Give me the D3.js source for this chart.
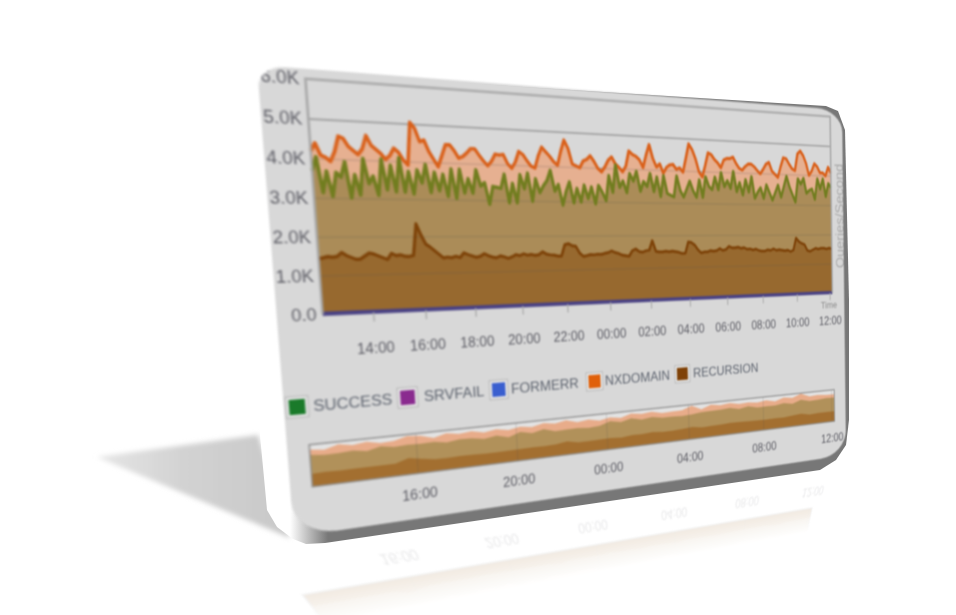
<!DOCTYPE html>
<html>
<head>
<meta charset="utf-8">
<script src="https://cdnjs.cloudflare.com/ajax/libs/d3/7.8.5/d3.min.js"></script>
<style>
  html, body { margin: 0; padding: 0; background: #fff; overflow: hidden; }
  #stage { position: relative; width: 956px; height: 615px; overflow: hidden; }
  #stage svg { position: absolute; left: 0; top: 0; transform-origin: 0 0; overflow: visible; }
  text { font-family: "Liberation Sans", Arial, sans-serif; }
</style>
</head>
<body>
<div id="stage"></div>
<script>
// values in thousands of queries/second, one every 10 minutes from 12:10 to 12:10
var nxdomain = [4.2,4.4,4.1,4.05,3.95,4.2,4.6,4.55,4.35,4.25,4.15,4.3,4.65,4.4,4.3,4.2,4.05,4.15,4.35,4.25,4.05,3.92,5.05,4.9,4.55,4.6,4.3,4.1,3.9,4.2,
  4.5,4.5,4.35,4.15,4.2,4.3,4.42,4.42,4.25,4.1,3.97,4.1,4.3,4.28,4.3,4.05,3.92,4.1,4.4,4.32,4.15,4.0,3.95,4.3,4.55,4.42,4.3,4.15,4.05,4.45,
  4.78,4.55,4.1,4.05,4.0,4.2,4.25,4.36,4.2,4.0,3.9,4.05,4.25,4.35,4.15,4.05,3.92,4.1,4.55,4.45,4.4,4.3,4.07,4.45,4.77,4.35,4.1,4.2,3.92,4.1,
  4.18,4.2,4.05,4.1,3.97,4.4,4.85,4.68,4.4,4.0,3.84,4.2,4.6,4.55,4.4,4.3,4.15,4.4,4.45,4.45,4.5,4.3,4.15,4.1,4.22,4.3,4.3,4.22,4.1,4.0,
  4.15,4.32,4.38,4.1,4.0,3.9,4.25,4.55,4.52,4.35,4.2,4.14,4.7,4.8,4.65,4.4,4.0,4.15,4.4,4.3,4.1,4.1,4.0,4.3,4.1];
var success = [3.7,4.05,3.15,3.7,3.05,3.67,3.55,3.95,3.02,3.63,3.1,4.05,3.4,3.6,3.1,4.05,3.25,3.9,3.2,4.1,3.2,3.75,3.15,3.8,3.45,3.95,3.2,3.75,3.25,3.7,
  3.1,3.85,3.05,3.85,3.2,3.6,3.2,3.85,3.4,3.5,2.9,3.4,3.38,3.35,3.75,2.95,3.5,2.95,3.75,3.35,3.8,3.0,3.65,3.25,3.45,3.6,3.9,3.3,3.5,2.9,
  3.3,3.58,2.97,3.4,3.0,3.5,3.1,3.45,2.95,3.5,3.3,3.05,3.8,3.3,4.12,3.45,3.65,3.3,3.88,3.65,3.95,3.35,3.65,3.5,3.9,3.35,3.8,3.2,3.85,3.3,
  3.25,3.2,3.85,3.4,3.2,3.45,3.7,3.4,3.2,3.75,3.2,3.85,3.55,3.45,3.85,3.45,4.0,3.55,3.75,3.5,4.05,3.4,3.7,3.3,3.8,3.4,3.9,3.2,3.4,3.55,
  3.2,3.65,3.4,3.15,3.4,3.65,3.25,3.6,3.95,3.6,3.35,3.1,3.88,3.7,3.9,3.4,3.5,3.55,3.2,3.9,3.55,3.9,3.3,3.75,3.6];
var recursion = [1.45,1.47,1.5,1.48,1.5,1.6,1.52,1.47,1.42,1.42,1.5,1.58,1.55,1.5,1.45,1.4,1.56,1.5,1.52,1.48,1.47,1.5,2.35,2.05,1.8,1.72,1.62,1.52,1.42,1.44,
  1.42,1.46,1.42,1.55,1.5,1.46,1.42,1.45,1.52,1.46,1.42,1.4,1.45,1.42,1.38,1.42,1.48,1.45,1.5,1.46,1.48,1.45,1.47,1.55,1.48,1.46,1.45,1.42,1.42,1.75,
  1.78,1.72,1.7,1.5,1.4,1.42,1.45,1.44,1.46,1.45,1.48,1.5,1.55,1.5,1.47,1.42,1.4,1.38,1.55,1.6,1.52,1.5,1.54,1.56,1.85,1.52,1.5,1.5,1.52,1.5,
  1.52,1.5,1.48,1.44,1.45,1.8,1.78,1.7,1.55,1.45,1.48,1.48,1.52,1.5,1.52,1.58,1.52,1.55,1.65,1.6,1.6,1.62,1.58,1.6,1.55,1.56,1.52,1.55,1.5,1.48,
  1.48,1.52,1.5,1.55,1.5,1.52,1.5,1.48,1.5,1.45,1.5,1.9,1.78,1.72,1.68,1.48,1.45,1.5,1.55,1.52,1.55,1.55,1.52,1.55,1.52];
// the two error series stay flat on the zero line, read every 6 hours
var srvfail = [0.02,0.02,0.02,0.02,0.02];
var formerr = [0.01,0.01,0.01,0.01,0.01];

var legendNames = ["SUCCESS", "SRVFAIL", "FORMERR", "NXDOMAIN", "RECURSION"];
var legendColors = ["#1a7a2a", "#8a2b8f", "#3a5fcf", "#e0600a", "#7f4208"];
var yTicks = [0, 1, 2, 3, 4, 5, 6];

// flat layout of the card before it is tilted
var cardW = 746, cardH = 482;
var plot = {left: 45, right: 725, top: 10, bottom: 250};
var over = {left: 22, right: 726, top: 386, bottom: 431};
var legendSwatchX = [2, 117, 222, 344, 468];
var legendTextX = [29, 146, 248, 369, 495];

var noon = new Date(2014, 0, 1, 12, 0);
var start = new Date(2014, 0, 1, 12, 10);
var end = new Date(2014, 0, 2, 12, 10);
var times = nxdomain.map(function(d, i) { return d3.timeMinute.offset(start, i * 10); });

// overview uses half hour means of the same series
var overIdx = d3.range(0, nxdomain.length, 3);
function thirty(arr) {
  return overIdx.map(function(i) { return d3.mean(arr.slice(i, i + 3)); });
}
var overTimes = overIdx.map(function(i) { return times[i]; });

// css matrix for a flat w x h rectangle seen as the quad p00, p10, p01, p11
function tiltMatrix(w, h, p00, p10, p01, p11) {
  var dx1 = p10[0] - p11[0], dx2 = p01[0] - p11[0], sx = p00[0] - p10[0] + p11[0] - p01[0];
  var dy1 = p10[1] - p11[1], dy2 = p01[1] - p11[1], sy = p00[1] - p10[1] + p11[1] - p01[1];
  var den = dx1 * dy2 - dx2 * dy1;
  var g = (sx * dy2 - dx2 * sy) / den;
  var k = (dx1 * sy - sx * dy1) / den;
  var a = p10[0] - p00[0] + g * p10[0], b = p01[0] - p00[0] + k * p01[0];
  var d = p10[1] - p00[1] + g * p10[1], e = p01[1] - p00[1] + k * p01[1];
  return "matrix3d(" + [a / w, d / w, 0, g / w, b / h, e / h, 0, k / h, 0, 0, 1, 0, p00[0], p00[1], 0, 1].join(",") + ")";
}

var stage = d3.select("#stage");

// ---- floor shadow ----
var floor = stage.append("svg").attr("width", 956).attr("height", 615);
var defs = floor.append("defs");
defs.append("filter").attr("id", "soft").attr("x", "-20%").attr("y", "-20%").attr("width", "140%").attr("height", "140%")
  .append("feGaussianBlur").attr("stdDeviation", 2.5);
var shadeGrad = defs.append("linearGradient").attr("id", "shade").attr("gradientUnits", "userSpaceOnUse")
  .attr("x1", 97).attr("x2", 270).attr("y1", 0).attr("y2", 0);
shadeGrad.append("stop").attr("offset", 0).attr("stop-color", "#e6e6e6");
shadeGrad.append("stop").attr("offset", 0.5).attr("stop-color", "#d2d2d2");
shadeGrad.append("stop").attr("offset", 1).attr("stop-color", "#cacaca");
floor.append("polygon")
  .attr("points", "97,457 258,435 290,538")
  .attr("fill", "url(#shade)")
  .attr("filter", "url(#soft)");

// reflected overview, mirrored under the card
var mirror = stage.append("svg")
  .attr("width", cardW).attr("height", cardH)
  .style("filter", "blur(0.8px)")
  .style("transform", tiltMatrix(over.right - over.left, over.bottom - over.top, [330, 630], [806, 538], [303, 595], [812, 508])
    + " translate(" + (-over.left) + "px," + (-over.top) + "px)");
var fade = mirror.append("defs").append("linearGradient").attr("id", "fade").attr("gradientUnits", "userSpaceOnUse")
  .attr("x1", 0).attr("x2", 0).attr("y1", over.bottom).attr("y2", over.top + 8);
fade.append("stop").attr("offset", 0).attr("stop-color", "#fff");
fade.append("stop").attr("offset", 1).attr("stop-color", "#000");
mirror.select("defs").append("mask").attr("id", "fadeMask").attr("maskUnits", "userSpaceOnUse")
  .attr("x", 0).attr("y", 0).attr("width", cardW).attr("height", cardH)
  .append("rect").attr("width", cardW).attr("height", cardH).attr("fill", "url(#fade)");
var mirrorG = mirror.append("g").attr("opacity", 0.14);
drawOverview(mirrorG, "fadeMask");

// ---- side of the card ----
var rimPoints = [[826,106],[838,111],[845,130],[849,300],[849,420],[846,445],[836,460],[820,470],[325,543],[306,544],
  [293,539],[277,527],[267,510],[260,435],[256,300],[256,70]];
var side = stage.append("svg").attr("width", 956).attr("height", 615);
var sideGrad = side.append("defs").append("linearGradient").attr("id", "sideGrad").attr("gradientUnits", "userSpaceOnUse")
  .attr("x1", 290).attr("x2", 328).attr("y1", 0).attr("y2", 0);
sideGrad.append("stop").attr("offset", 0).attr("stop-color", "#fff");
sideGrad.append("stop").attr("offset", 1).attr("stop-color", "#777");
side.append("path")
  .attr("d", d3.line()(rimPoints) + "Z")
  .attr("fill", "url(#sideGrad)");

// ---- the card ----
var card = stage.append("svg")
  .attr("width", cardW).attr("height", cardH)
  .style("filter", "blur(0.8px)")
  .style("transform", tiltMatrix(cardW, cardH, [257, 65], [842, 110], [294, 537], [846, 455]));

// corners are not all the same size
var cardPath = "M26,0 H" + (cardW - 44) + " A44,30 0 0 1 " + cardW + ",30 V" + (cardH - 36)
  + " A46,36 0 0 1 " + (cardW - 46) + "," + cardH + " H44 A44,38 0 0 1 0," + (cardH - 38)
  + " V22 A26,22 0 0 1 26,0 Z";
card.append("defs").append("clipPath").attr("id", "cardClip")
  .append("path").attr("d", cardPath);

var root = card.append("g").attr("clip-path", "url(#cardClip)");
root.append("rect").attr("width", cardW).attr("height", cardH).attr("fill", "#d8d8d8");

var x = d3.scaleTime().domain([start, end]).range([plot.left, plot.right]);
var y = d3.scaleLinear().domain([0, 6]).range([plot.bottom, plot.top]);

function areaOf(arr) {
  return d3.area()
    .x(function(d, i) { return x(times[i]); })
    .y0(y(0))
    .y1(function(d) { return y(d); })(arr);
}
function lineOf(arr) {
  return d3.line()
    .x(function(d, i) { return x(times[i]); })
    .y(function(d) { return y(d); })(arr);
}

// grid shows on the background, then faintly through the areas
function drawGrid(color, opacity) {
  root.append("g").selectAll("line").data(yTicks.slice(1, 6)).enter().append("line")
    .attr("x1", plot.left).attr("x2", plot.right)
    .attr("y1", function(d) { return y(d); })
    .attr("y2", function(d) { return y(d); })
    .attr("stroke", color).attr("stroke-opacity", opacity).attr("stroke-width", 1.5);
}
drawGrid("#a4a4a4", 1);

root.append("path").attr("d", areaOf(nxdomain)).attr("fill", "#e6b091");
root.append("path").attr("d", areaOf(success)).attr("fill", "#ab8c58");
root.append("path").attr("d", areaOf(recursion)).attr("fill", "#97692f");

drawGrid("#555", 0.2);

root.append("path").attr("d", lineOf(nxdomain)).attr("fill", "none").attr("stroke", "#d9601a").attr("stroke-width", 3.8).attr("stroke-linejoin", "round");
root.append("path").attr("d", lineOf(success)).attr("fill", "none").attr("stroke", "#717d1f").attr("stroke-width", 3.8).attr("stroke-linejoin", "round");
root.append("path").attr("d", lineOf(recursion)).attr("fill", "none").attr("stroke", "#7d4208").attr("stroke-width", 3.4).attr("stroke-linejoin", "round");

var flatX = d3.scaleLinear().domain([0, srvfail.length - 1]).range([plot.left, plot.right]);
[[srvfail, "#4e4378"], [formerr, "#4a4284"]].forEach(function(s) {
  root.append("path")
    .attr("d", d3.line().x(function(d, i) { return flatX(i); }).y(function(d) { return y(d); })(s[0]))
    .attr("fill", "none").attr("stroke", s[1]).attr("stroke-width", 4);
});

// frame
root.append("path")
  .attr("d", "M" + plot.left + "," + plot.bottom + "V" + plot.top + "H" + plot.right + "V" + plot.bottom)
  .attr("fill", "none").attr("stroke", "#a6a6a6").attr("stroke-width", 2.5);

var xAxis = d3.axisBottom(x)
  .tickValues(d3.range(1, 13).map(function(i) { return d3.timeHour.offset(noon, i * 2); }))
  .tickFormat(d3.timeFormat("%H:%M"))
  .tickSize(10).tickPadding(23);
var xg = root.append("g").attr("transform", "translate(0," + plot.bottom + ")").call(xAxis);
xg.select(".domain").remove();
xg.selectAll("line").attr("stroke", "#aaa").attr("stroke-width", 1.5);
xg.selectAll("text").attr("fill", "#5e5e66").attr("font-size", 16).attr("font-family", "Liberation Sans");

var yAxis = d3.axisLeft(y)
  .tickValues(yTicks)
  .tickFormat(function(d) { return d === 0 ? "0.0" : d.toFixed(1) + "K"; })
  .tickSize(0).tickPadding(6);
var yg = root.append("g").attr("transform", "translate(" + plot.left + ",0)").call(yAxis);
yg.select(".domain").remove();
yg.selectAll("text").attr("fill", "#5e5e66").attr("font-size", 18).attr("font-family", "Liberation Sans");

root.append("text").attr("x", plot.right + 8).attr("y", plot.bottom + 21)
  .attr("text-anchor", "end").attr("font-size", 13).attr("fill", "#8a8a8a").text("Time");
root.append("text")
  .attr("transform", "translate(" + (plot.right + 21) + "," + (plot.top + 206) + ") rotate(-90)")
  .attr("font-size", 20).attr("fill", "#a8a8a8").text("Queries/Second");

// legend
var legend = root.selectAll(".legend").data(legendNames).enter().append("g").attr("class", "legend");
legend.append("rect")
  .attr("x", function(d, i) { return legendSwatchX[i]; })
  .attr("y", 334).attr("width", 22).attr("height", 22)
  .attr("fill", "#e4e4e4").attr("stroke", "#b0b0b0");
legend.append("rect")
  .attr("x", function(d, i) { return legendSwatchX[i] + 3; })
  .attr("y", 337).attr("width", 16).attr("height", 16)
  .attr("fill", function(d, i) { return legendColors[i]; });
legend.append("text")
  .attr("x", function(d, i) { return legendTextX[i]; })
  .attr("y", 351)
  .attr("font-size", 17).attr("fill", "#5f6570")
  .text(function(d) { return d; });

drawOverview(root, null);

// small chart under the legend, also used for the reflection
function drawOverview(parent, maskId) {
  var ox = d3.scaleTime().domain([start, end]).range([over.left, over.right]);
  var oy = d3.scaleLinear().domain([0, 4.8]).range([over.bottom, over.top]);
  var g = parent.append("g");
  if (maskId) g.attr("mask", "url(#" + maskId + ")");
  g.append("rect").attr("x", over.left).attr("y", over.top)
    .attr("width", over.right - over.left).attr("height", over.bottom - over.top)
    .attr("fill", "#e3e3e3");
  [[nxdomain, "#e8ac8a"], [success, "#b1915a"], [recursion, "#a36f30"]].forEach(function(s) {
    g.append("path")
      .attr("d", d3.area()
        .x(function(d, i) { return ox(overTimes[i]); })
        .y0(oy(0))
        .y1(function(d) { return oy(d); })(thirty(s[0])))
      .attr("fill", s[1]);
  });
  var axis = d3.axisBottom(ox)
    .tickValues(d3.range(1, 7).map(function(i) { return d3.timeHour.offset(noon, i * 4); }))
    .tickFormat(d3.timeFormat("%H:%M"))
    .tickSize(0).tickPadding(18);
  var ag = parent.append("g").attr("transform", "translate(0," + over.bottom + ")").call(axis);
  ag.select(".domain").remove();
  ag.selectAll("text").attr("fill", "#5e5e66").attr("font-size", 16).attr("font-family", "Liberation Sans");
  // dividers at the labelled hours
  g.selectAll(".div").data(axis.tickValues()).enter().append("line")
    .attr("x1", function(d) { return ox(d); })
    .attr("x2", function(d) { return ox(d); })
    .attr("y1", over.top).attr("y2", over.bottom)
    .attr("stroke", "#555").attr("stroke-opacity", 0.25);
  g.append("rect").attr("x", over.left).attr("y", over.top)
    .attr("width", over.right - over.left).attr("height", over.bottom - over.top)
    .attr("fill", "none").attr("stroke", "#8c8c8c").attr("stroke-width", 1.5);
}
</script>
</body>
</html>
